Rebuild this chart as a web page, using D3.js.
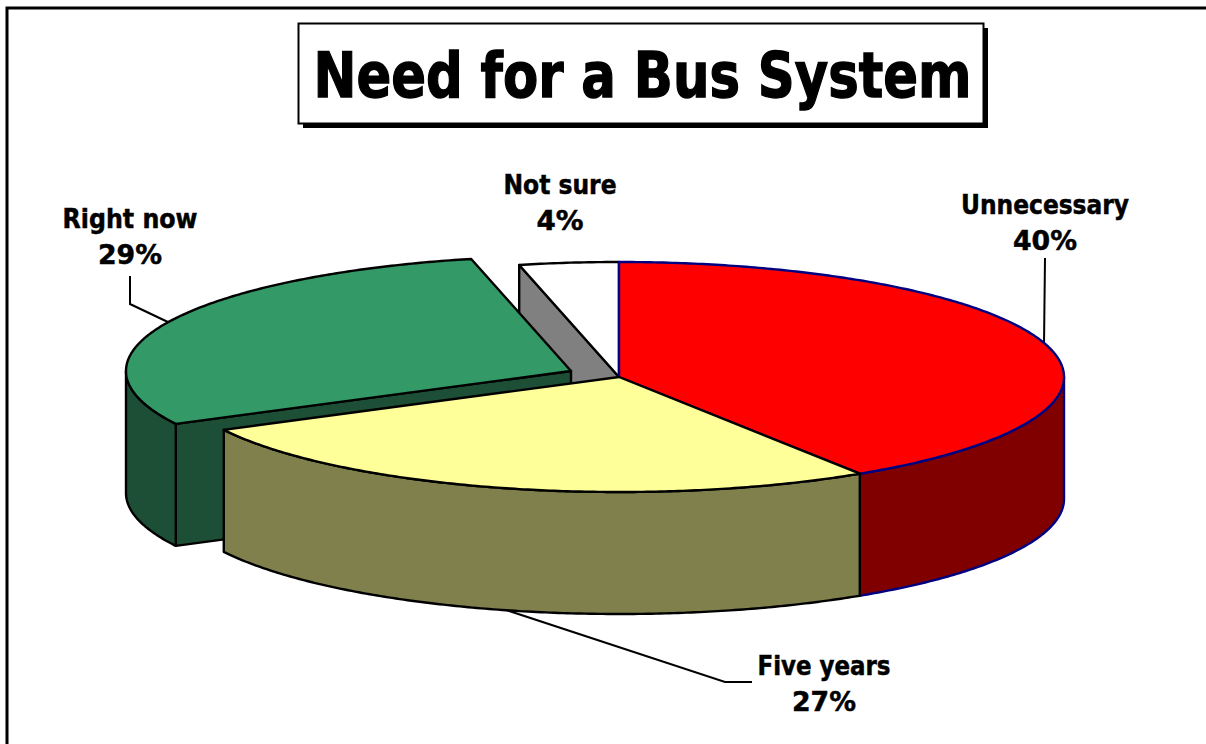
<!DOCTYPE html>
<html>
<head>
<meta charset="utf-8">
<script src="https://d3js.org/d3.v7.min.js"></script>
<style>
html,body{margin:0;padding:0;background:#fff;overflow:hidden}
svg{display:block}
text{font-family:"DejaVu Sans",sans-serif;font-weight:bold;fill:#000;stroke:#000;text-anchor:middle}
</style>
</head>
<body>
<svg id="chart" width="1206" height="744"></svg>
<script>
const titleText = "Need for a Bus System";
const categories = ["Unnecessary", "Five years", "Right now", "Not sure"];
const percentLabels = ["40%", "27%", "29%", "4%"];
const shares = [40.9, 26.5, 29.0, 3.6];

const topColors = ["#ff0000", "#ffff99", "#339966", "#ffffff"];
const wallColors = ["#800000", "#80804c", "#1c4f36", "#808080"];
const strokeColors = ["#000080", "#000", "#000", "#000"];
const pulled = {"Right now": [-48, -6]};

const labelLayout = {
  "Unnecessary": {x: 1045, y: 214, w: 168, pw: 65, leader: [[1045,258],[1044,345]]},
  "Five years":  {x: 824,  y: 675, w: 133, pw: 65, leader: [[503,609],[725,682],[752,682]]},
  "Right now":   {x: 130,  y: 228, w: 135, pw: 65, leader: [[130,276],[130,304],[170,323]]},
  "Not sure":    {x: 560,  y: 194, w: 113, pw: 48, leader: null}
};

const svg = d3.select("#chart");
const cx = 619, cy = 377, rx = 445, ry = 115, depth = 122;
const xs = d3.scaleLinear().domain([-1, 1]).range([cx - rx, cx + rx]);
const ys = d3.scaleLinear().domain([-1, 1]).range([cy - ry, cy + ry]);

const arcs = d3.pie().sort(null).value(d => d)(shares).map((a, i) => ({
  name: categories[i], pct: percentLabels[i], i,
  a0: a.startAngle, a1: a.endAngle,
  off: pulled[categories[i]] || [0, 0]
}));

const pt = (d, a, z = 0) => [xs(Math.sin(a)) + d.off[0], ys(-Math.cos(a)) + z + d.off[1]];
const apex = (d, z = 0) => [xs(0) + d.off[0], ys(0) + z + d.off[1]];
const rim = (d, a0, a1, z = 0) => {
  const n = Math.max(2, Math.ceil((a1 - a0) / 0.01));
  return d3.range(n + 1).map(k => pt(d, a0 + (a1 - a0) * k / n, z));
};
const line = d3.line();
const shape = (g, pts, fill, stroke) => g.append("path")
  .attr("d", line(pts) + "Z").attr("fill", fill).attr("stroke", stroke)
  .attr("stroke-width", 2.4).attr("stroke-linejoin", "round");

// page frame (top and left only)
svg.append("path").attr("d", "M7,744V8H1206").attr("fill", "none").attr("stroke", "#000").attr("stroke-width", 3);

// title box
svg.append("rect").attr("x", 303).attr("y", 28).attr("width", 685).attr("height", 100).attr("fill", "#000");
svg.append("rect").attr("x", 298.5).attr("y", 23.5).attr("width", 685).attr("height", 100)
  .attr("fill", "#fff").attr("stroke", "#000").attr("stroke-width", 2);
svg.append("text").attr("x", 642.5).attr("y", 97).attr("font-size", 63).attr("stroke-width", 1.4)
  .attr("textLength", 658).attr("lengthAdjust", "spacingAndGlyphs").text(titleText);

// leaders sit beneath the pie
arcs.forEach(d => {
  const l = labelLayout[d.name].leader;
  if (l) svg.append("path").attr("d", line(l)).attr("fill", "none").attr("stroke", "#000").attr("stroke-width", 2);
});

const pie = svg.append("g");
const drawOrder = ["Not sure", "Unnecessary", "Right now", "Five years"];
const PI = Math.PI;
drawOrder.forEach(name => {
  const d = arcs.find(x => x.name === name);
  const g = pie.append("g");
  const wall = wallColors[d.i], top = topColors[d.i], st = strokeColors[d.i];
  // straight cut walls
  if (name === "Not sure" || name === "Right now") {
    shape(g, [pt(d, d.a0), apex(d), apex(d, depth), pt(d, d.a0, depth)], wall, st);
  }
  // outer wall, front half only
  const f0 = Math.max(d.a0, PI / 2), f1 = Math.min(d.a1, 3 * PI / 2);
  if (f1 > f0) shape(g, rim(d, f0, f1).concat(rim(d, f0, f1, depth).reverse()), wall, st);
  // top face
  shape(g, [apex(d)].concat(rim(d, d.a0, d.a1)), top, st);
});

// labels
arcs.forEach(d => {
  const p = labelLayout[d.name];
  svg.append("text").attr("x", p.x).attr("y", p.y).attr("font-size", 26).attr("stroke-width", 0.5)
    .attr("textLength", p.w).attr("lengthAdjust", "spacingAndGlyphs").text(d.name);
  svg.append("text").attr("x", p.x).attr("y", p.y + 36).attr("font-size", 27).attr("stroke-width", 0.5)
    .attr("textLength", p.pw - 1).attr("lengthAdjust", "spacingAndGlyphs").text(d.pct);
});
</script>
</body>
</html>
